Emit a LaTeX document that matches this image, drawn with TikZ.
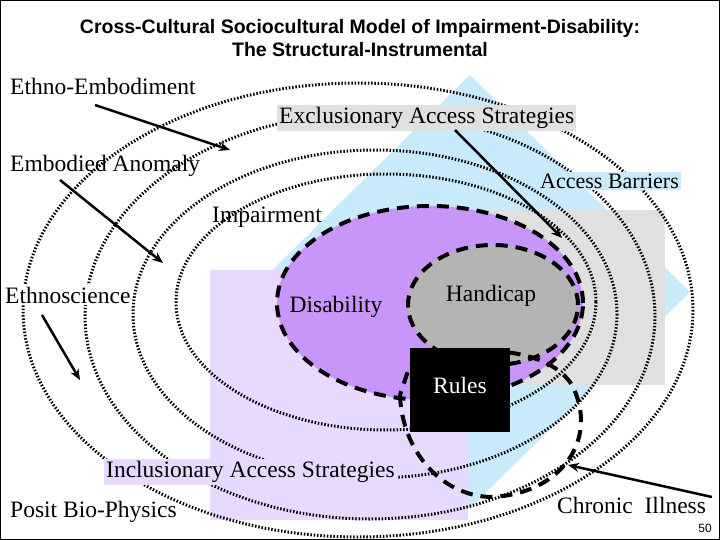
\documentclass[tikz,border=0pt]{standalone}
\usepackage{fontspec}
\setmainfont{Liberation Serif}
\newfontfamily\arial{Liberation Sans}
\usetikzlibrary{shapes.geometric,arrows.meta}
\begin{document}
\begin{tikzpicture}[x=1pt,y=-1pt,
  dot/.style={line width=3pt,dash pattern=on 1.5pt off 1.8pt},
  bigdash/.style={line width=4pt,dash pattern=on 12pt off 8pt},
  arr/.style={line width=2.5pt,-{Stealth[length=11pt,width=9pt]}},
  lbl/.style={font=\fontsize{23.5}{25}\selectfont,inner sep=2pt}]
\useasboundingbox (0,0) rectangle (720,540);
\fill[white] (0,0) rectangle (720,540);
\definecolor{lav}{RGB}{232,218,255}
\definecolor{lblue}{RGB}{200,234,250}
% background shapes
\fill[lblue] (470,75) -- (690,292) -- (470,508) -- (250,292) -- cycle;
\fill[black!12] (460,210) rectangle (665,385);
\fill[lav] (210,270) rectangle (468,520);
% dotted ellipses
\draw[dot] (358,310) ellipse [x radius=335,y radius=227];
\draw[dot] (370,316) ellipse [x radius=285,y radius=203];
\draw[dot] (375,314) ellipse [x radius=242,y radius=164];
\draw[dot] (386,302) ellipse [x radius=210,y radius=128];
% purple and gray ellipses
\node[ellipse,minimum width=306,minimum height=194,fill={rgb,255:red,200;green,150;blue,248},draw,bigdash] (dis) at (430,303) {};
\node[ellipse,minimum width=170,minimum height=120,fill={rgb,255:red,180;green,180;blue,180},draw,bigdash] (hand) at (493,305) {};
% dashed loop
\draw[bigdash] (400,395) .. controls (402,450) and (440,495) .. (490,497)
  .. controls (560,495) and (600,440) .. (572,385)
  .. controls (550,350) and (480,340) .. (410,365) -- cycle;
% labels
\node[lbl,fill=black!12,anchor=west] (excl) at (277,118) {Exclusionary Access Strategies};
\node[lbl,fill=lblue,anchor=west,font=\fontsize{22}{24}\selectfont] (acc) at (538,181) {Access Barriers};
\node[lbl,fill=lav,anchor=west] (incl) at (104,472) {Inclusionary Access Strategies};
\node[fill=black,minimum width=100,minimum height=84] (rules) at (460,390) {};
\node[text=white,font=\fontsize{23.5}{25}\selectfont] (rt) at (460,385) {Rules};
\node[lbl,anchor=west] (emb) at (8,86) {Ethno-Embodiment};
\node[lbl,anchor=west] (anom) at (8,166) {Embodied Anomaly};
\node[lbl,anchor=west,fill=white] (sci) at (3,295) {Ethnoscience};
\node[lbl,anchor=west] (bio) at (8,512) {Posit Bio-Physics};
\node[lbl,anchor=west] (chr) at (555,505) {Chronic\ \ Illness};
\node[lbl] (imp) at (267,217) {Impairment};
\node[lbl] (dt) at (336,307) {Disability};
\node[lbl] (ht) at (491,296) {Handicap};
\node[font=\arial\fontsize{12}{14}\selectfont] (pg) at (705,528) {50};
\node[font=\arial\bfseries\fontsize{19.5}{23}\selectfont,align=center] (title) at (360,38) {Cross-Cultural Sociocultural Model of Impairment-Disability:\\The Structural-Instrumental};
% arrows
\coordinate (a1) at (230,150); \coordinate (a2) at (163,263); \coordinate (a3) at (80,380);
\coordinate (a4) at (562,238); \coordinate (a5) at (568,465);
\draw[arr] (95,105) -- (a1);
\draw[arr] (60,180) -- (a2);
\draw[arr] (42,315) -- (a3);
\draw[arr] (455,130) -- (a4);
\draw[arr] (712,497) -- (a5);
\draw[line width=1pt] (0.5,0.5) rectangle (719.5,539.5);
\end{tikzpicture}
\end{document}
